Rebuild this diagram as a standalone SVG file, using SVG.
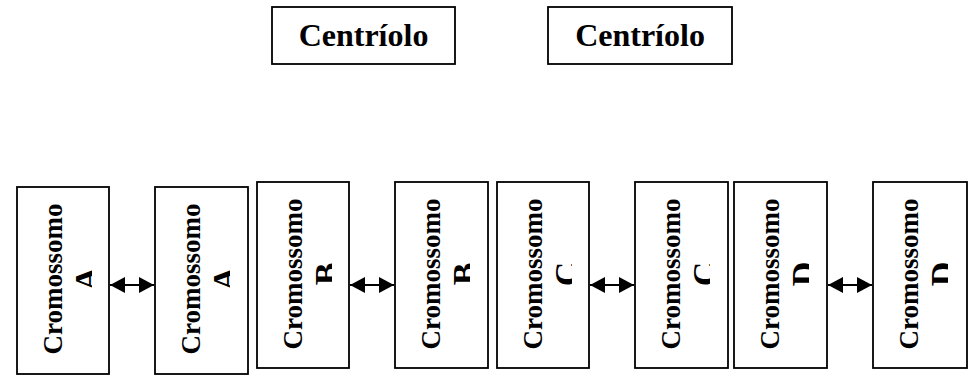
<svg xmlns="http://www.w3.org/2000/svg" width="971" height="377" viewBox="0 0 971 377">
  <style>
    .box { fill: #fff; stroke: #000; stroke-width: 1.8; }
    .lbl { font-family: "Liberation Serif", "Times New Roman", serif; font-weight: bold; fill: #000; }
    .top { font-size: 32px; text-anchor: middle; }
    .chr { font-size: 27px; text-anchor: middle; }
    .tag { font-size: 34px; text-anchor: middle; }
    .link { stroke: #000; stroke-width: 2; fill: none; marker-start: url(#head); marker-end: url(#head); }
  </style>
  <defs>
    <marker id="head" viewBox="0 0 15 16" refX="15" refY="8" markerWidth="15" markerHeight="16" markerUnits="userSpaceOnUse" orient="auto-start-reverse">
      <path d="M0,0 L15,8 L0,16 Z" fill="#000"/>
    </marker>
    <!-- text frame of a chromosome box: the second line is cut off at its edge -->
    <clipPath id="frame">
      <rect x="-100" y="0" width="200" height="75"/>
    </clipPath>
  </defs>

  <!-- centrioles -->
  <g id="centriolo-1">
    <rect class="box" x="272" y="7" width="183" height="57"/>
    <text class="lbl top" x="363.5" y="46">Centríolo</text>
  </g>
  <g id="centriolo-2">
    <rect class="box" x="548" y="7" width="184" height="57"/>
    <text class="lbl top" x="640" y="46">Centríolo</text>
  </g>

  <!-- chromosome pair A -->
  <g id="cromossomo-a1">
    <rect class="box" x="17" y="187" width="92" height="187"/>
    <g transform="translate(17,279) rotate(-90)" clip-path="url(#frame)">
      <text class="lbl chr" x="0" y="45">Cromossomo</text>
      <text class="lbl tag" x="0" y="81">A</text>
    </g>
  </g>
  <g id="cromossomo-a2">
    <rect class="box" x="155" y="187" width="93" height="187"/>
    <g transform="translate(155,279) rotate(-90)" clip-path="url(#frame)">
      <text class="lbl chr" x="0" y="45">Cromossomo</text>
      <text class="lbl tag" x="0" y="81">A</text>
    </g>
  </g>

  <!-- chromosome pair B -->
  <g id="cromossomo-b1">
    <rect class="box" x="257" y="182" width="92" height="186"/>
    <g transform="translate(257,274) rotate(-90)" clip-path="url(#frame)">
      <text class="lbl chr" x="0" y="45">Cromossomo</text>
      <text class="lbl tag" x="0" y="81">B</text>
    </g>
  </g>
  <g id="cromossomo-b2">
    <rect class="box" x="395" y="182" width="93" height="186"/>
    <g transform="translate(395,274) rotate(-90)" clip-path="url(#frame)">
      <text class="lbl chr" x="0" y="45">Cromossomo</text>
      <text class="lbl tag" x="0" y="81">B</text>
    </g>
  </g>

  <!-- chromosome pair C -->
  <g id="cromossomo-c1">
    <rect class="box" x="497" y="182" width="92" height="186"/>
    <g transform="translate(497,274) rotate(-90)" clip-path="url(#frame)">
      <text class="lbl chr" x="0" y="45">Cromossomo</text>
      <text class="lbl tag" x="0" y="81">C</text>
    </g>
  </g>
  <g id="cromossomo-c2">
    <rect class="box" x="635" y="182" width="93" height="186"/>
    <g transform="translate(635,274) rotate(-90)" clip-path="url(#frame)">
      <text class="lbl chr" x="0" y="45">Cromossomo</text>
      <text class="lbl tag" x="0" y="81">C</text>
    </g>
  </g>

  <!-- chromosome pair D -->
  <g id="cromossomo-d1">
    <rect class="box" x="734" y="182" width="93" height="186"/>
    <g transform="translate(734,274) rotate(-90)" clip-path="url(#frame)">
      <text class="lbl chr" x="0" y="45">Cromossomo</text>
      <text class="lbl tag" x="0" y="81">D</text>
    </g>
  </g>
  <g id="cromossomo-d2">
    <rect class="box" x="873" y="182" width="94" height="186"/>
    <g transform="translate(873,274) rotate(-90)" clip-path="url(#frame)">
      <text class="lbl chr" x="0" y="45">Cromossomo</text>
      <text class="lbl tag" x="0" y="81">D</text>
    </g>
  </g>

  <!-- homologous pairing links -->
  <g id="connectors">
    <line class="link" x1="110" y1="285" x2="154" y2="285"/>
    <line class="link" x1="350" y1="285" x2="394" y2="285"/>
    <line class="link" x1="590" y1="285" x2="634" y2="285"/>
    <line class="link" x1="828" y1="285" x2="872" y2="285"/>
  </g>
</svg>
